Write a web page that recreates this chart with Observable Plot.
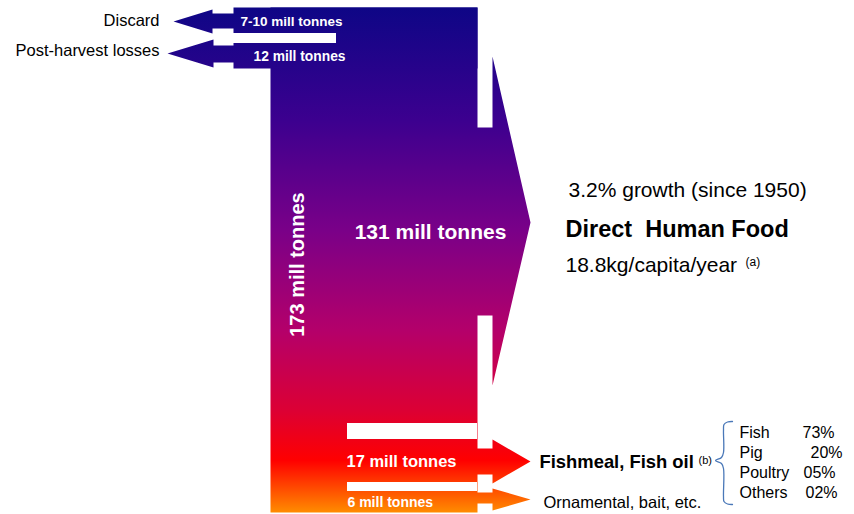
<!DOCTYPE html>
<html>
<head>
<meta charset="utf-8">
<script src="https://cdn.jsdelivr.net/npm/d3@7"></script>
<script src="https://cdn.jsdelivr.net/npm/@observablehq/plot@0.6"></script>
<style>
  html, body { margin: 0; padding: 0; background: #fff; }
  #chart svg { display: block; }
</style>
</head>
<body>
<div id="chart"></div>
<script>
// ---------- DATA ----------
const flowValues = ["7-10", "12", "173", "131", "17", "6"];
const flowUnit = "mill tonnes";
const lossLabels = ["Discard", "Post-harvest losses"];
const foodLines = ["3.2% growth (since 1950)", "Direct  Human Food", "18.8kg/capita/year"];
const foodNote = "(a)";
const feedLabel = "Fishmeal, Fish oil";
const feedNote = "(b)";
const otherLabel = "Ornamental, bait, etc.";
const feedUsers = ["Fish", "Pig", "Poultry", "Others"];
const feedShares = ["73%", "20%", "05%", "02%"];

// ---------- LAYOUT (pixel frame) ----------
const W = 854, H = 514;
const L = {
  top: 7, bottom: 512, colX0: 270, colX1: 477, boxX0: 233, boxBottom: 68,
  arrowXs: 470, arrowXb: 492, arrowXt: 530,
  big: {s0: 127, s1: 315, h0: 56, h1: 385, t: 222},
  fish: {s0: 448, s1: 474, h0: 439, h1: 483, t: 461},
  orn: {s0: 492, s1: 503, h0: 488, h1: 510, t: 499},
  discard: {xt: 173, yt: 21, xb: 212, h0: 9, h1: 33, s0: 13, s1: 28, xe: 240},
  post: {xt: 167, yt: 53, xb: 213, h0: 39, h1: 67, s0: 45, s1: 62, xe: 240},
  gaps: [
    {x1: 233, x2: 336, y1: 33, y2: 43},
    {x1: 347, x2: 477, y1: 423, y2: 439},
    {x1: 347, x2: 477, y1: 482, y2: 491}
  ]
};

const shapes = [];
function addPoly(id, pts) { pts.forEach(([x, y]) => shapes.push({id, x, y})); }
function rightArrow(id, a) {
  const {arrowXs: xs, arrowXb: xb, arrowXt: xt} = L;
  addPoly(id, [[xs, a.s0], [xb, a.s0], [xb, a.h0], [xt, a.t], [xb, a.h1], [xb, a.s1], [xs, a.s1]]);
}
function leftArrow(id, a) {
  addPoly(id, [[a.xt, a.yt], [a.xb, a.h0], [a.xb, a.s0], [a.xe, a.s0], [a.xe, a.s1], [a.xb, a.s1], [a.xb, a.h1]]);
}
addPoly("column", [[L.colX0, L.top], [L.colX1, L.top], [L.colX1, L.bottom], [L.colX0, L.bottom]]);
addPoly("box", [[L.boxX0, L.top], [L.colX1, L.top], [L.colX1, L.boxBottom], [L.boxX0, L.boxBottom]]);
rightArrow("big", L.big);
rightArrow("fish", L.fish);
rightArrow("orn", L.orn);
leftArrow("discard", L.discard);
leftArrow("post", L.post);

const brace = [[732,421],[727,421.5],[723.5,424],[723,430],[723,452],[721,457],[715,460],
               [721,463],[723,468],[723,496],[723.5,501],[727,503.5],[732,504]].map(([x,y]) => ({x, y}));

const font = "Helvetica, Arial, 'Liberation Sans', sans-serif";
const labels = [
  {t: `${flowValues[0]} ${flowUnit}`, x: 240, y: 21, size: 13.5, w: "bold", c: "#fff", a: "start"},
  {t: `${flowValues[1]} ${flowUnit}`, x: 253, y: 56, size: 13.8, w: "bold", c: "#fff", a: "start"},
  {t: `${flowValues[3]} ${flowUnit}`, x: 430, y: 232, size: 21, w: "bold", c: "#fff", a: "middle"},
  {t: `${flowValues[4]} ${flowUnit}`, x: 346, y: 461, size: 16.5, w: "bold", c: "#fff", a: "start"},
  {t: `${flowValues[5]} ${flowUnit}`, x: 347, y: 502, size: 14, w: "bold", c: "#fff", a: "start"},
  {t: lossLabels[0], x: 159, y: 20, size: 16.5, w: "normal", c: "#000", a: "end"},
  {t: lossLabels[1], x: 159, y: 50, size: 16.5, w: "normal", c: "#000", a: "end"},
  {t: foodLines[0], x: 568, y: 190, size: 21, w: "normal", c: "#000", a: "start"},
  {t: foodLines[1], x: 565, y: 229, size: 23.5, w: "bold", c: "#000", a: "start"},
  {t: foodLines[2], x: 565, y: 265, size: 21, w: "normal", c: "#000", a: "start"},
  {t: foodNote, x: 745, y: 262, size: 12, w: "normal", c: "#000", a: "start"},
  {t: feedLabel, x: 539, y: 462, size: 18.4, w: "bold", c: "#000", a: "start"},
  {t: feedNote, x: 698, y: 460, size: 11, w: "normal", c: "#000", a: "start"},
  {t: otherLabel, x: 543, y: 502, size: 16.5, w: "normal", c: "#000", a: "start"}
];
const listY = [432, 452, 472, 492];
const shareX = [802, 810, 803, 805];
feedUsers.forEach((u, i) => {
  labels.push({t: u, x: 739, y: listY[i], size: 16, w: "normal", c: "#000", a: "start"});
  labels.push({t: feedShares[i], x: shareX[i], y: listY[i], size: 16, w: "normal", c: "#000", a: "start"});
});

const textMarks = labels.map(d => Plot.text([d], {
  x: "x", y: "y", text: "t", fill: d.c, fontSize: d.size, fontWeight: d.w,
  textAnchor: d.a, fontFamily: font
}));

const svg = Plot.plot({
  width: W, height: H,
  margin: 0,
  x: {type: "linear", domain: [0, W], range: [0, W], axis: null},
  y: {type: "linear", domain: [0, H], range: [0, H], axis: null},
  marks: [
    Plot.line(shapes, {x: "x", y: "y", z: "id", curve: "linear-closed", fill: "url(#flowGrad)", stroke: "none"}),
    Plot.rect(L.gaps, {x1: "x1", x2: "x2", y1: "y1", y2: "y2", fill: "white"}),
    Plot.line(brace, {x: "x", y: "y", stroke: "#4a78b8", strokeWidth: 1.3, curve: "catmull-rom"}),
    ...textMarks,
    Plot.text([`${flowValues[2]} ${flowUnit}`], {x: () => 297, y: () => 264, text: d => d, rotate: -90,
      fill: "#fff", fontSize: 20, fontWeight: "bold", fontFamily: font, textAnchor: "middle"})
  ]
});

const stops = [
  [7, "#0e0686"], [120, "#3c008f"], [230, "#7a0088"], [330, "#b4006a"],
  [410, "#dc0034"], [460, "#ff0000"], [512, "#ff8c00"]
];
const defs = d3.select(svg).insert("defs", ":first-child");
const grad = defs.append("linearGradient").attr("id", "flowGrad")
  .attr("gradientUnits", "userSpaceOnUse").attr("x1", 0).attr("x2", 0).attr("y1", 7).attr("y2", 512);
stops.forEach(([y, c]) => grad.append("stop").attr("offset", (y - 7) / (512 - 7)).attr("stop-color", c));

document.getElementById("chart").appendChild(svg);
</script>
</body>
</html>
